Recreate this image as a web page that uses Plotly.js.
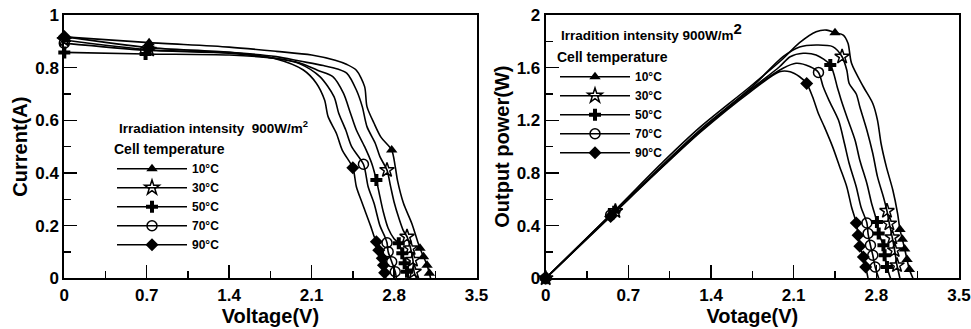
<!DOCTYPE html>
<html><head><meta charset="utf-8">
<script src="https://cdn.plot.ly/plotly-3.0.1.min.js"></script>
<style>html,body{margin:0;padding:0;background:#fff}#c{width:971px;height:329px}</style>
</head><body><div id="c"></div>
<script>
// ---- Data: I-V curves (Voltage V, Current A), marks = 1 where a symbol is drawn
const temps = ["10°C","30°C","50°C","70°C","90°C"];
const symbols = ["triangle-up","star-open","cross","circle-open","diamond"];

const iv10_V = [0,0.72,1.4,1.8,2.1,2.3,2.4,2.48,2.55,2.57,2.63,2.69,2.78,2.81,2.83,2.88,2.95,3.0,3.02,3.05,3.08,3.10,3.11];
const iv10_I = [0.917,0.895,0.878,0.862,0.848,0.828,0.812,0.79,0.728,0.652,0.589,0.535,0.487,0.424,0.37,0.285,0.209,0.14,0.114,0.082,0.05,0.019,0];
const iv10_M = [1,1,0,0,0,0,0,0,0,0,0,0,1,0,0,0,0,0,1,1,1,1,0];

const iv30_V = [0,0.72,1.4,1.8,2.0,2.2,2.32,2.40,2.48,2.53,2.57,2.64,2.68,2.74,2.77,2.80,2.84,2.88,2.91,2.94,2.96,2.97,2.99];
const iv30_I = [0.905,0.868,0.858,0.842,0.825,0.808,0.795,0.778,0.715,0.652,0.576,0.513,0.462,0.411,0.35,0.29,0.23,0.18,0.158,0.114,0.07,0.025,0];
const iv30_M = [1,1,0,0,0,0,0,0,0,0,0,0,0,1,0,0,0,0,1,1,1,1,0];

const iv50_V = [0,0.69,1.4,1.8,2.0,2.15,2.28,2.37,2.43,2.48,2.55,2.61,2.65,2.68,2.71,2.75,2.80,2.84,2.87,2.89,2.91,2.92];
const iv50_I = [0.858,0.852,0.848,0.835,0.818,0.79,0.766,0.703,0.627,0.563,0.50,0.437,0.373,0.31,0.25,0.19,0.15,0.133,0.095,0.057,0.025,0];
const iv50_M = [1,1,0,0,0,0,0,0,0,0,0,0,1,0,0,0,0,1,1,1,1,0];

const iv70_V = [0,0.69,1.4,1.8,2.0,2.17,2.29,2.33,2.39,2.44,2.54,2.58,2.63,2.68,2.72,2.74,2.75,2.78,2.81,2.82];
const iv70_I = [0.893,0.866,0.855,0.835,0.815,0.766,0.69,0.627,0.563,0.50,0.433,0.348,0.285,0.2,0.16,0.135,0.101,0.063,0.025,0];
const iv70_M = [1,1,0,0,0,0,0,0,0,0,1,0,0,0,0,1,1,1,1,0];

const iv90_V = [0,0.72,1.4,1.8,2.03,2.14,2.21,2.24,2.31,2.36,2.45,2.48,2.53,2.60,2.63,2.65,2.67,2.70,2.71,2.72,2.73];
const iv90_I = [0.918,0.876,0.858,0.833,0.791,0.741,0.677,0.614,0.551,0.487,0.42,0.348,0.285,0.2,0.16,0.139,0.107,0.076,0.05,0.021,0];
const iv90_M = [1,1,0,0,0,0,0,0,0,0,1,0,0,0,0,1,1,1,1,1,0];

// ---- Data: P-V curves (Voltage V, Output power W)
const pv10_V = [0,0.59,1.0,1.31,1.73,2.0,2.15,2.29,2.38,2.45,2.52,2.56,2.59,2.69,2.77,2.81,2.84,2.885,2.94,2.98,3.00,3.02,3.04,3.06,3.08,3.11];
const pv10_P = [0,0.52,0.89,1.15,1.455,1.66,1.79,1.873,1.885,1.866,1.848,1.785,1.633,1.455,1.328,1.20,1.024,0.846,0.669,0.492,0.37,0.297,0.223,0.142,0.066,0];
const pv10_M = [1,1,0,0,0,0,0,0,0,1,0,0,0,0,0,0,0,0,0,0,1,1,1,1,1,0];

const pv30_V = [0,0.59,1.0,1.31,1.73,2.01,2.15,2.29,2.43,2.51,2.55,2.57,2.63,2.66,2.72,2.77,2.81,2.86,2.89,2.91,2.935,2.955,2.975,3.0];
const pv30_P = [0,0.51,0.87,1.13,1.44,1.683,1.757,1.772,1.76,1.683,1.58,1.48,1.40,1.303,1.125,0.948,0.77,0.618,0.512,0.416,0.31,0.213,0.099,0];
const pv30_M = [1,1,0,0,0,0,0,0,0,1,0,0,0,0,0,0,0,0,1,1,1,1,1,0];

const pv50_V = [0,0.58,1.0,1.31,1.73,1.98,2.07,2.18,2.29,2.41,2.47,2.50,2.55,2.62,2.66,2.72,2.76,2.805,2.82,2.86,2.87,2.89,2.92];
const pv50_P = [0,0.505,0.86,1.12,1.43,1.607,1.683,1.709,1.696,1.62,1.45,1.36,1.227,1.049,0.897,0.72,0.568,0.428,0.34,0.251,0.175,0.086,0];
const pv50_M = [1,1,0,0,0,0,0,0,0,1,0,0,0,0,0,0,0,1,1,1,1,1,0];

const pv70_V = [0,0.55,1.0,1.31,1.73,2.01,2.12,2.24,2.31,2.35,2.40,2.48,2.53,2.57,2.63,2.67,2.72,2.73,2.75,2.77,2.79,2.82];
const pv70_P = [0,0.48,0.86,1.115,1.425,1.595,1.633,1.607,1.564,1.455,1.35,1.20,1.024,0.872,0.694,0.542,0.42,0.34,0.251,0.175,0.086,0];
const pv70_M = [1,1,0,0,0,0,0,0,1,0,0,0,0,0,0,0,1,1,1,1,1,0];

const pv90_V = [0,0.55,1.0,1.31,1.73,1.98,2.07,2.15,2.21,2.26,2.31,2.36,2.43,2.49,2.55,2.59,2.63,2.645,2.66,2.69,2.71,2.73];
const pv90_P = [0,0.47,0.855,1.11,1.415,1.569,1.569,1.531,1.48,1.379,1.25,1.15,0.998,0.846,0.694,0.542,0.42,0.327,0.243,0.162,0.086,0];
const pv90_M = [1,1,0,0,0,0,0,0,1,0,0,0,0,0,0,0,1,1,1,1,1,0];

const ivSets = [[iv10_V,iv10_I,iv10_M],[iv30_V,iv30_I,iv30_M],[iv50_V,iv50_I,iv50_M],[iv70_V,iv70_I,iv70_M],[iv90_V,iv90_I,iv90_M]];
const pvSets = [[pv10_V,pv10_P,pv10_M],[pv30_V,pv30_P,pv30_M],[pv50_V,pv50_P,pv50_M],[pv70_V,pv70_P,pv70_M],[pv90_V,pv90_P,pv90_M]];

function sel(m){const s=[];m.forEach((f,i)=>{if(f)s.push(i);});return s;}
const traces=[];
function addSet(sets, xa, ya, leg){
  sets.forEach((d,k)=>{
    const sym=symbols[k];
    const open = sym.indexOf('open')>=0;
    traces.push({
      type:'scatter', mode:'lines+markers', x:d[0], y:d[1], xaxis:xa, yaxis:ya,
      name:temps[k], legend:leg, cliponaxis:false,
      line:{color:'#000',width:1.6,shape:'spline',smoothing:0.8},
      marker:{symbol:sym,size: sym==='star-open'?11:10,color:'#000',line:{color:'#000',width:open?1.5:0}},
      selectedpoints: sel(d[2]),
      selected:{marker:{opacity:1}}, unselected:{marker:{opacity:0}}
    });
  });
}
addSet(ivSets,'x','y','legend');
addSet(pvSets,'x2','y2','legend2');

const F = 'Liberation Sans, Arial, sans-serif';
function xax(dom){return {domain:dom,range:[0,3.5],tick0:0,dtick:0.7,ticks:'inside',ticklen:13,tickwidth:1.5,tickcolor:'#000',
  minor:{dtick:0.35,ticks:'inside',ticklen:7,tickwidth:1.5,tickcolor:'#000'},
  showline:true,mirror:true,linewidth:2,linecolor:'#000',showgrid:false,zeroline:false,
  tickfont:{family:F,size:17,weight:'bold',color:'#000'}};}
function yax(dom,max,dt){return {domain:dom,range:[0,max],tick0:0,dtick:dt,ticks:'inside',ticklen:13,tickwidth:1.5,tickcolor:'#000',
  minor:{dtick:dt/2,ticks:'inside',ticklen:7,tickwidth:1.5,tickcolor:'#000'},
  showline:true,mirror:true,linewidth:2,linecolor:'#000',showgrid:false,zeroline:false,
  tickfont:{family:F,size:17,weight:'bold',color:'#000'}};}

const TF = {family:F,size:20,weight:'bold',color:'#000'};
const yd=[1-278.3/329, 1-15/329];
const layout={
  width:971,height:329,margin:{l:0,r:0,t:0,b:0},paper_bgcolor:'#fff',plot_bgcolor:'#fff',
  font:{family:F,color:'#000',weight:'bold'},
  xaxis:Object.assign(xax([64.3/971,476.5/971]),{title:{text:'Voltage(V)',font:TF,standoff:0}}),
  yaxis:Object.assign(yax(yd,1,0.2),{title:{text:'Current(A)',font:TF,standoff:2}}),
  xaxis2:Object.assign(xax([545.7/971,959/971]),{anchor:'y2',title:{text:'Votage(V)',font:TF,standoff:0}}),
  yaxis2:Object.assign(yax(yd,2,0.4),{anchor:'x2',title:{text:'Output power(W)',font:TF,standoff:2}}),
  showlegend:true,
  legend:{x:112/971,y:1-136/329,xanchor:'left',yanchor:'top',bgcolor:'rgba(0,0,0,0)',itemwidth:70,
    font:{family:F,size:12,weight:'bold'},title:{text:'Cell temperature',font:{family:F,size:14,weight:'bold'}},tracegroupgap:0},
  legend2:{x:555/971,y:1-44/329,xanchor:'left',yanchor:'top',bgcolor:'rgba(0,0,0,0)',itemwidth:70,
    font:{family:F,size:12,weight:'bold'},title:{text:'Cell temperature',font:{family:F,size:14,weight:'bold'}},tracegroupgap:0},
  annotations:[
    {xref:'paper',yref:'paper',x:117/971,y:1-127/329,xanchor:'left',yanchor:'middle',showarrow:false,
     text:'Irradiation intensity  900W/m<sup>2</sup>',font:{family:F,size:13.5,weight:'bold',color:'#000'}},
    {xref:'paper',yref:'paper',x:559/971,y:1-31/329,xanchor:'left',yanchor:'middle',showarrow:false,
     text:'Irradition intensity 900W/m<sup><span style="font-size:15px">2</span></sup>',font:{family:F,size:13.5,weight:'bold',color:'#000'}}
  ]
};
Plotly.newPlot('c',traces,layout,{staticPlot:true,displayModeBar:false});
</script></body></html>
